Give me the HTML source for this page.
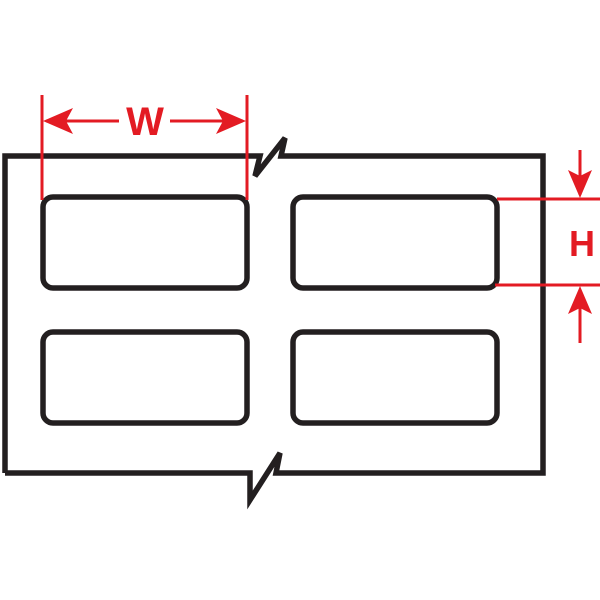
<!DOCTYPE html>
<html><head><style>html,body{margin:0;padding:0;background:#fff}svg{display:block}</style></head>
<body>
<svg width="600" height="600" viewBox="0 0 600 600" xmlns="http://www.w3.org/2000/svg">
<g fill="none" stroke="#231f20" stroke-width="5.5" stroke-linejoin="miter">
<polyline points="5,473 5,156 260,156 255,176 285,138 281,156 543,156 543,473 276,473 280,453 250,500 250,473 5,473"/>
<rect x="43" y="197" width="204" height="91" rx="10"/>
<rect x="293" y="197" width="204" height="91" rx="10"/>
<rect x="43" y="332" width="204" height="91" rx="10"/>
<rect x="293" y="332" width="204" height="91" rx="10"/>
</g>
<g stroke="#e31b23" stroke-width="3" fill="none">
<line x1="42" y1="95" x2="42" y2="200"/>
<line x1="247" y1="95" x2="247" y2="200"/>
<line x1="46" y1="121" x2="119" y2="121"/>
<line x1="170" y1="121" x2="243" y2="121"/>
<line x1="497" y1="199" x2="600" y2="199"/>
<line x1="495" y1="285" x2="600" y2="285"/>
<line x1="580" y1="150" x2="580" y2="195"/>
<line x1="580" y1="290" x2="580" y2="343"/>
</g>
<g fill="#e31b23">
<polygon points="43,121 73,108 66,121 73,134"/>
<polygon points="246,121 216,108 223,121 216,134"/>
<polygon points="580,198 568,170 580,176 592,170"/>
<polygon points="580,286 568,314 580,308 592,314"/>
<text x="145" y="135" font-family="Liberation Sans, sans-serif" font-weight="bold" font-size="40" text-anchor="middle">W</text>
<text x="582" y="256" font-family="Liberation Sans, sans-serif" font-weight="bold" font-size="36" text-anchor="middle">H</text>
</g>
</svg>
</body></html>
